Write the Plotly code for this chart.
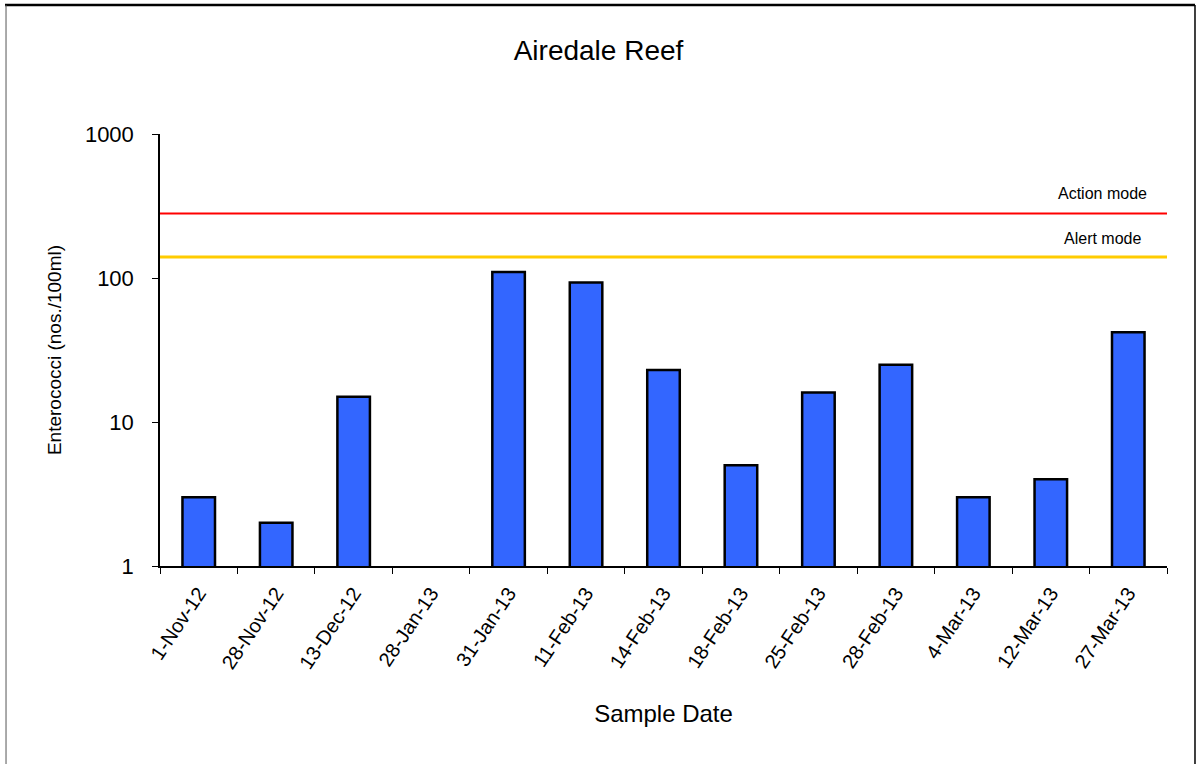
import plotly.graph_objects as go
import math

dates = ["1-Nov-12", "28-Nov-12", "13-Dec-12", "28-Jan-13", "31-Jan-13", "11-Feb-13",
         "14-Feb-13", "18-Feb-13", "25-Feb-13", "28-Feb-13", "4-Mar-13", "12-Mar-13", "27-Mar-13"]
enterococci = [3, 2, 15, None, 110, 93, 23, 5, 16, 25, 3, 4, 42]
action_level = 280
alert_level = 140
y_ticks = [1, 10, 100, 1000]

FONT = "Liberation Sans, Arial, sans-serif"

fig = go.Figure()
fig.add_trace(go.Bar(
    x=dates, y=enterococci,
    marker=dict(color="#3366FF", line=dict(color="black", width=2.5)),
    width=0.42, showlegend=False,
))

fig.add_hline(y=action_level, line=dict(color="#FF0000", width=2))
fig.add_hline(y=alert_level, line=dict(color="#FFCC00", width=3))

fig.add_annotation(x=0.936, xref="paper", xanchor="center", y=math.log10(action_level), yref="y",
                   text="Action mode", showarrow=False, yshift=20,
                   font=dict(family=FONT, size=16, color="black"))
fig.add_annotation(x=0.936, xref="paper", xanchor="center", y=math.log10(alert_level), yref="y",
                   text="Alert mode", showarrow=False, yshift=18,
                   font=dict(family=FONT, size=16, color="black"))

# outer border
fig.add_shape(type="line", xref="paper", yref="paper", x0=-0.1539, x1=1.0278, y0=1.2986, y1=1.2986,
              line=dict(color="black", width=2.5))
fig.add_shape(type="line", xref="paper", yref="paper", x0=-0.1529, x1=-0.1529, y0=1.2986, y1=-0.5,
              line=dict(color="#555555", width=1))
fig.add_shape(type="line", xref="paper", yref="paper", x0=1.0278, x1=1.0278, y0=1.2986, y1=-0.5,
              line=dict(color="black", width=1.5))

fig.update_layout(
    width=1197, height=764,
    margin=dict(l=160, r=30, t=134, b=198),
    paper_bgcolor="white", plot_bgcolor="white",
    font=dict(family=FONT, color="black"),
    title=dict(text="Airedale Reef", x=0.5, xanchor="center", y=1 - 50 / 764, yanchor="middle",
               font=dict(family=FONT, size=28, color="black")),
    bargap=0.58,
)
fig.update_xaxes(
    type="category", showline=True, linecolor="black", linewidth=1.5,
    ticks="outside", tickson="boundaries", ticklen=6, tickcolor="black",
    tickangle=-56, tickfont=dict(family=FONT, size=20, color="black"),
    ticklabelstandoff=6,
    title=dict(text="Sample Date", font=dict(family=FONT, size=24, color="black"), standoff=33),
    showgrid=False, range=[-0.5, 12.5],
)
fig.update_yaxes(
    type="log", range=[0, 3], showline=True, linecolor="black", linewidth=1.5,
    ticks="outside", ticklen=6, tickcolor="black",
    tickvals=y_ticks, ticktext=[str(v) for v in y_ticks],
    tickfont=dict(family=FONT, size=22, color="black"),
    ticklabelstandoff=14,
    title=dict(text="Enterococci (nos./100ml)", font=dict(family=FONT, size=19, color="black"), standoff=18),
    showgrid=False, zeroline=False,
)

fig.write_html("out.html", config={"displayModeBar": False},
               post_script="document.body.style.margin='0';")
